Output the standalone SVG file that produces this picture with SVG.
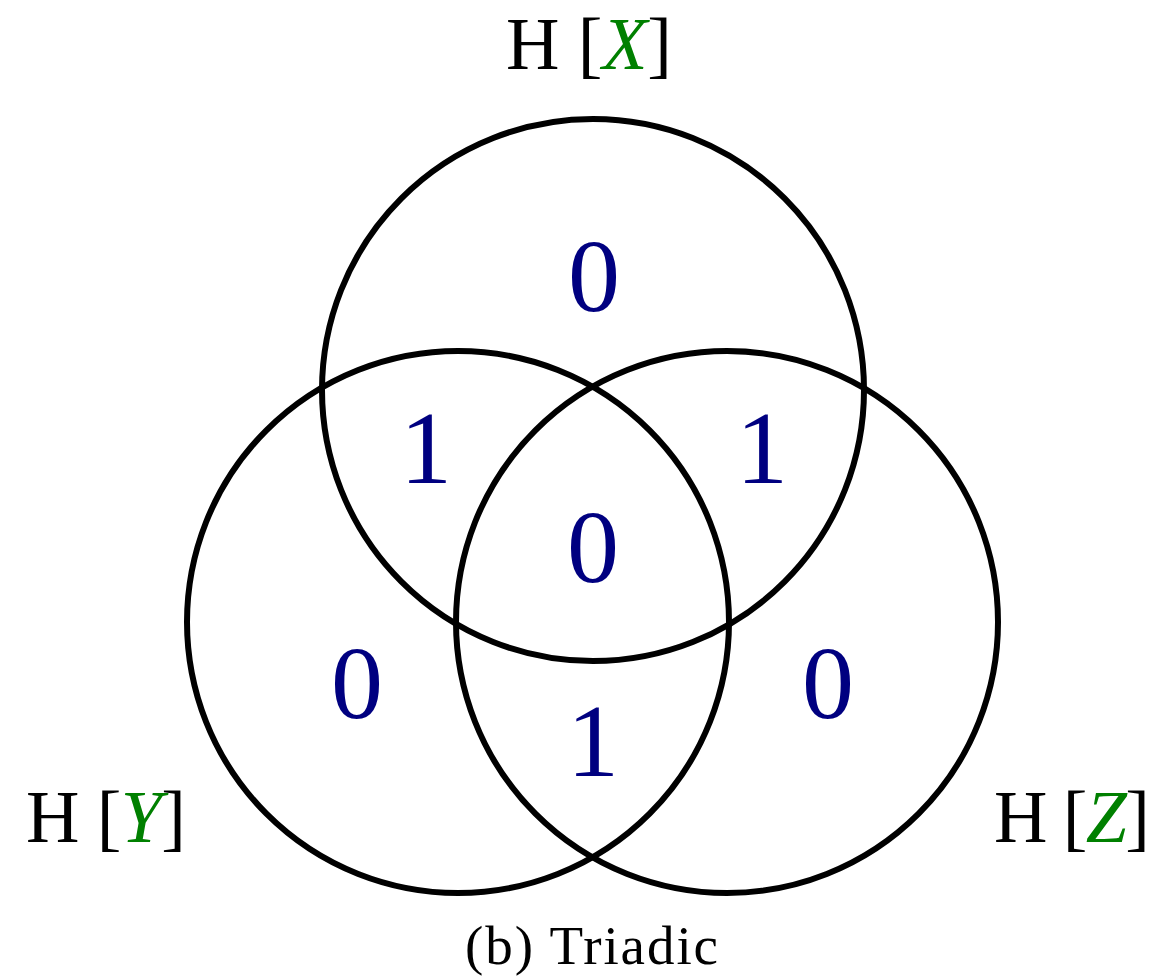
<svg xmlns="http://www.w3.org/2000/svg" width="1176" height="978" viewBox="0 0 1176 978">
<style>
.c{fill:none;stroke:#000;stroke-width:6}
.n{font-family:"Liberation Serif",serif;font-size:104px;fill:#000080;text-anchor:middle}
.l{font-family:"Liberation Serif",serif;font-size:74px;fill:#000}
.g{fill:#008000;font-style:italic}
.cap{font-family:"Liberation Serif",serif;font-size:55px;fill:#000}
</style>
<rect width="1176" height="978" fill="#fff"/>
<g id="circles">
<circle id="circleX" class="c" cx="593" cy="390" r="271"/>
<circle id="circleY" class="c" cx="458" cy="622" r="271"/>
<circle id="circleZ" class="c" cx="727" cy="622" r="271"/>
</g>
<g id="values">
<text class="n" x="594" y="311">0</text>
<text class="n" x="426" y="483">1</text>
<text class="n" x="762" y="483">1</text>
<text class="n" x="593" y="582">0</text>
<text class="n" x="357" y="718">0</text>
<text class="n" x="828" y="718">0</text>
<text class="n" x="593" y="776">1</text>
</g>
<g id="labels">
<text class="l" x="506" y="69" textLength="166">H [<tspan class="g">X</tspan>]</text>
<text class="l" x="26" y="842" textLength="160">H [<tspan class="g">Y</tspan>]</text>
<text class="l" x="994" y="842" textLength="156">H [<tspan class="g">Z</tspan>]</text>
</g>
<text class="cap" x="465" y="964" textLength="253">(b) Triadic</text>
</svg>
